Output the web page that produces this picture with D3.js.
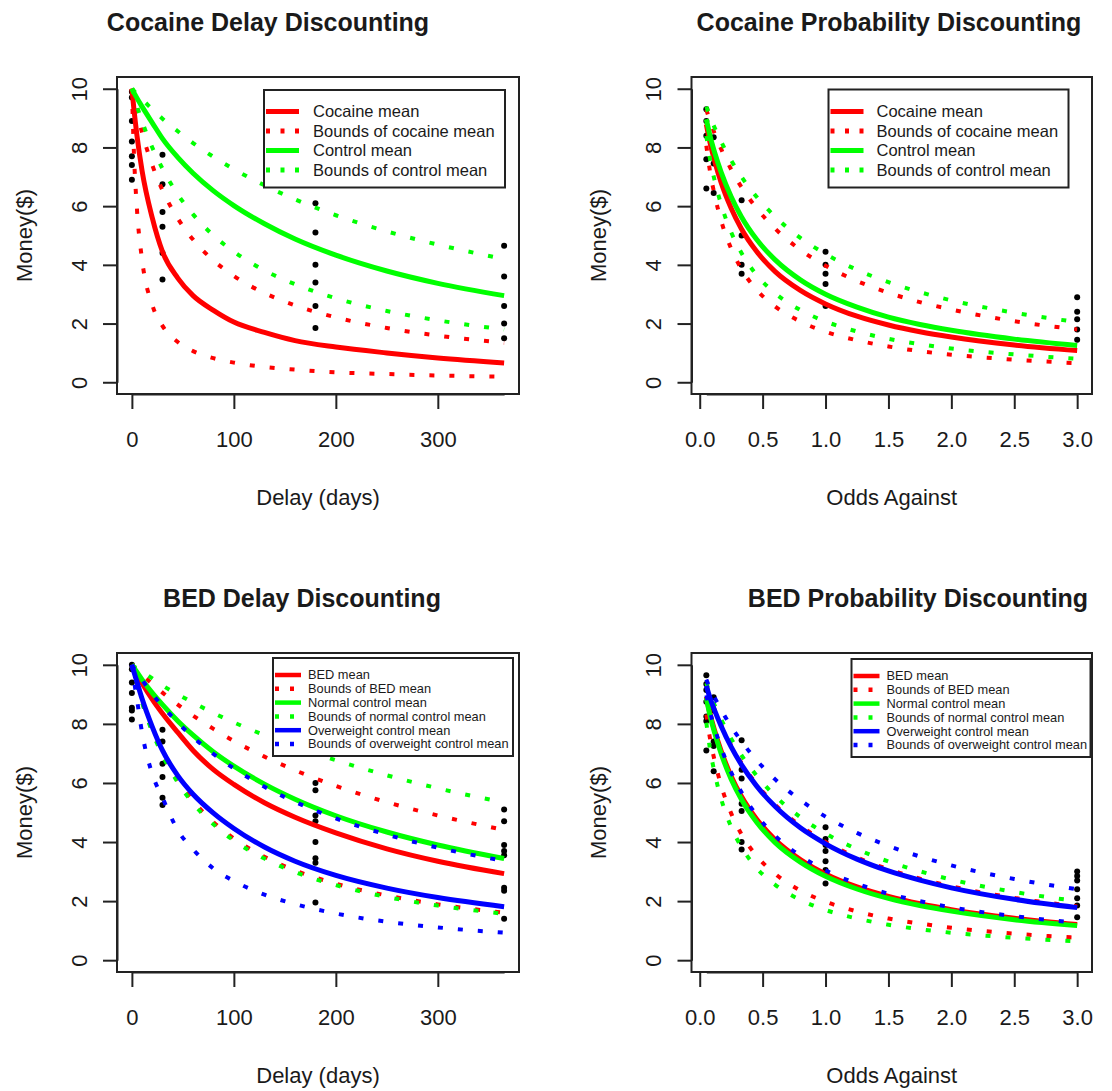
<!DOCTYPE html>
<html>
<head>
<meta charset="utf-8">
<script src="https://cdn.jsdelivr.net/npm/d3@7"></script>
<style>
  html, body { margin: 0; padding: 0; background: #fff; }
  svg { display: block; }
  text { font-family: "Liberation Sans", Arial, sans-serif; fill: #1a1a1a; }
</style>
</head>
<body>
<script>
// ---------------- DATA ----------------
const delayX = [0, 2, 5, 10, 20, 30, 45, 60, 80, 100, 130, 160, 200, 250, 300, 365];
const oddsX  = [0.0526, 0.08, 0.12, 0.17, 0.25, 0.33, 0.45, 0.6, 0.8, 1.0, 1.25, 1.5, 1.75, 2.0, 2.5, 3.0];

const delayTicks = [0, 100, 200, 300];
const oddsTicks = [0, 0.5, 1, 1.5, 2, 2.5, 3];
const moneyTicks = [0, 2, 4, 6, 8, 10];

// Cocaine delay discounting
const cocDelayMean  = [10, 9.3, 8.4, 7.2, 5.6, 4.45, 3.55, 2.95, 2.45, 2.05, 1.7, 1.42, 1.2, 1.0, 0.83, 0.66];
const cocDelayUpper = [10, 9.66, 9.19, 8.5, 7.4, 6.54, 5.58, 4.86, 4.15, 3.62, 3.04, 2.62, 2.21, 1.85, 1.59, 1.35];
const cocDelayLower = [10, 7.81, 5.88, 4.17, 2.63, 1.92, 1.37, 1.06, 0.82, 0.67, 0.52, 0.43, 0.34, 0.28, 0.23, 0.19];
const ctlDelayMean  = [10, 9.87, 9.68, 9.39, 8.84, 8.3, 7.66, 7.12, 6.52, 6.02, 5.4, 4.88, 4.33, 3.79, 3.37, 2.95];
const ctlDelayUpper = [10, 9.93, 9.81, 9.64, 9.3, 8.98, 8.55, 8.15, 7.68, 7.26, 6.71, 6.23, 5.69, 5.14, 4.69, 4.2];
const ctlDelayLower = [10, 9.76, 9.41, 8.89, 8.0, 7.28, 6.4, 5.72, 5.0, 4.45, 3.81, 3.34, 2.86, 2.43, 2.11, 1.8];
const cocDelayPoints = [[0,9.9],[0,9.7],[0,8.9],[0,8.2],[0,7.7],[0,7.4],[0,6.9],
  [30,7.75],[30,6.75],[30,5.8],[30,5.3],[30,4.4],[30,3.5],
  [180,6.1],[180,5.1],[180,4.0],[180,3.4],[180,2.6],[180,1.85],
  [365,4.65],[365,3.6],[365,2.6],[365,2.0],[365,1.5]];

// Cocaine probability discounting
const cocProbMean  = [8.79, 8.2, 7.52, 6.81, 5.93, 5.24, 4.47, 3.77, 3.13, 2.67, 2.25, 1.95, 1.72, 1.54, 1.27, 1.08];
const cocProbUpper = [9.29, 8.92, 8.46, 7.95, 7.25, 6.66, 5.94, 5.23, 4.51, 3.97, 3.45, 3.05, 2.73, 2.48, 2.08, 1.8];
const cocProbLower = [8.06, 7.23, 6.35, 5.51, 4.55, 3.87, 3.16, 2.58, 2.07, 1.72, 1.43, 1.22, 1.06, 0.94, 0.77, 0.65];
const ctlProbMean  = [8.96, 8.43, 7.81, 7.16, 6.32, 5.65, 4.88, 4.17, 3.49, 3.0, 2.56, 2.22, 1.97, 1.77, 1.47, 1.25];
const ctlProbUpper = [9.39, 9.06, 8.66, 8.2, 7.56, 7.01, 6.33, 5.64, 4.92, 4.37, 3.83, 3.41, 3.07, 2.79, 2.37, 2.05];
const ctlProbLower = [8.39, 7.65, 6.85, 6.06, 5.11, 4.42, 3.67, 3.03, 2.46, 2.07, 1.73, 1.48, 1.3, 1.15, 0.95, 0.8];
const cocProbPoints = [[0.0526,9.3],[0.0526,8.9],[0.0526,8.4],[0.0526,7.6],[0.0526,6.6],
  [0.111,8.35],[0.111,7.45],[0.111,6.45],
  [0.333,6.2],[0.333,5.0],[0.333,4.0],[0.333,3.7],
  [1,4.45],[1,4.0],[1,3.7],[1,3.35],[1,2.6],
  [3,2.9],[3,2.4],[3,2.15],[3,1.8],[3,1.45]];

// BED delay discounting
const bedDelayMean  = [10, 9.87, 9.68, 9.38, 8.83, 8.35, 7.71, 7.1, 6.45, 5.95, 5.33, 4.84, 4.31, 3.77, 3.35, 2.93];
const bedDelayUpper = [10, 9.93, 9.83, 9.66, 9.35, 9.06, 8.65, 8.28, 7.83, 7.42, 6.89, 6.43, 5.9, 5.35, 4.9, 4.41];
const bedDelayLower = [10, 9.72, 9.33, 8.75, 7.78, 7.0, 6.09, 5.39, 4.67, 4.12, 3.5, 3.04, 2.59, 2.19, 1.89, 1.61];
const nrmDelayMean  = [10, 9.9, 9.75, 9.5, 9.05, 8.65, 8.1, 7.62, 7.05, 6.57, 5.96, 5.45, 4.89, 4.34, 3.9, 3.44];
const nrmDelayUpper = [10, 9.95, 9.88, 9.77, 9.54, 9.3, 9.0, 8.72, 8.37, 8.05, 7.62, 7.23, 6.77, 6.26, 5.82, 5.34];
const nrmDelayLower = [10, 9.71, 9.32, 8.72, 7.73, 6.94, 6.02, 5.31, 4.6, 4.05, 3.44, 2.98, 2.54, 2.14, 1.85, 1.57];
const owDelayMean   = [10, 9.76, 9.42, 8.85, 7.9, 7.1, 6.25, 5.62, 4.98, 4.46, 3.83, 3.35, 2.87, 2.44, 2.12, 1.81];
const owDelayUpper  = [10, 9.89, 9.74, 9.49, 9.02, 8.6, 8.04, 7.55, 6.98, 6.49, 5.87, 5.36, 4.8, 4.25, 3.81, 3.36];
const owDelayLower  = [10, 9.49, 8.82, 7.7, 6.3, 5.5, 4.4, 3.75, 3.1, 2.68, 2.22, 1.9, 1.58, 1.3, 1.11, 0.93];
const bedDelayPoints = [[0,10.0],[0,9.85],[0,9.4],[0,9.05],[0,8.55],[0,8.45],[0,8.15],
  [30,7.8],[30,7.4],[30,6.65],[30,6.2],[30,5.5],[30,5.25],
  [180,7.45],[180,6.0],[180,5.75],[180,4.9],[180,4.7],[180,4.0],[180,3.45],[180,3.3],[180,1.95],
  [365,5.1],[365,4.7],[365,3.9],[365,3.7],[365,3.55],[365,2.45],[365,2.35],[365,1.4]];

// BED probability discounting
const bedProbMean  = [8.92, 8.38, 7.75, 7.09, 6.23, 5.56, 4.79, 4.08, 3.41, 2.92, 2.48, 2.16, 1.91, 1.71, 1.42, 1.21];
const bedProbUpper = [9.3, 8.93, 8.47, 7.97, 7.27, 6.69, 5.97, 5.26, 4.55, 4.0, 3.48, 3.08, 2.76, 2.5, 2.11, 1.82];
const bedProbLower = [8.32, 7.55, 6.73, 5.92, 4.97, 4.28, 3.54, 2.92, 2.36, 1.98, 1.65, 1.41, 1.24, 1.1, 0.9, 0.76];
const nrmProbMean  = [8.88, 8.32, 7.68, 7.0, 6.13, 5.46, 4.69, 3.98, 3.32, 2.84, 2.41, 2.09, 1.85, 1.66, 1.37, 1.17];
const nrmProbUpper = [9.38, 9.04, 8.62, 8.16, 7.5, 6.95, 6.26, 5.56, 4.84, 4.29, 3.76, 3.34, 3.01, 2.73, 2.31, 2.0];
const nrmProbLower = [8.04, 7.2, 6.31, 5.47, 4.51, 3.84, 3.13, 2.55, 2.04, 1.7, 1.41, 1.2, 1.05, 0.93, 0.76, 0.64];
const owProbMean   = [9.29, 8.9, 8.44, 7.93, 7.22, 6.63, 5.91, 5.2, 4.48, 3.94, 3.42, 3.02, 2.71, 2.45, 2.06, 1.78];
const owProbUpper  = [9.5, 9.22, 8.88, 8.48, 7.91, 7.42, 6.78, 6.12, 5.42, 4.86, 4.31, 3.87, 3.51, 3.21, 2.75, 2.4];
const owProbLower  = [8.97, 8.45, 7.84, 7.2, 6.36, 5.7, 4.92, 4.21, 3.53, 3.04, 2.59, 2.25, 2.0, 1.79, 1.49, 1.27];
const bedProbPoints = [[0.0526,9.65],[0.0526,9.35],[0.0526,9.15],[0.0526,8.75],[0.0526,8.25],[0.0526,8.1],[0.0526,7.1],
  [0.111,8.9],[0.111,8.45],[0.111,7.4],[0.111,7.25],[0.111,6.4],
  [0.333,7.45],[0.333,6.45],[0.333,6.15],[0.333,5.3],[0.333,5.05],[0.333,4.0],[0.333,3.75],
  [1,4.5],[1,4.1],[1,3.9],[1,3.7],[1,3.35],[1,3.05],[1,2.6],
  [3,3.0],[3,2.85],[3,2.7],[3,2.4],[3,2.1],[3,1.85],[3,1.45]];

const cocLegend = ["Cocaine mean", "Bounds of cocaine mean", "Control mean", "Bounds of control mean"];
const bedLegend = ["BED mean", "Bounds of BED mean", "Normal control mean", "Bounds of normal control mean",
                   "Overweight control mean", "Bounds of overweight control mean"];

// ---------------- STYLE / LAYOUT ----------------
const RED = "#ff0000", GREEN = "#00ff00", BLUE = "#0000ff";
const cocColors = [RED, RED, GREEN, GREEN];
const bedColors = [RED, RED, GREEN, GREEN, BLUE, BLUE];

const panels = [
  { title: "Cocaine Delay Discounting", titleX: 268, xlab: "Delay (days)", kind: "delay",
    box: [117, 519, 77, 394], xs: delayX, ticks: delayTicks, tickFmt: d3.format("d"),
    groups: [[cocDelayMean, [cocDelayUpper, cocDelayLower], RED], [ctlDelayMean, [ctlDelayUpper, ctlDelayLower], GREEN]],
    points: cocDelayPoints, legend: { labels: cocLegend, colors: cocColors, x: 264, y: 90, w: 241, h: 97.5, row0: 111.5, dy: 19.5, fs: 16.5, tx: 49, big: true } },
  { title: "Cocaine Probability Discounting", titleX: 889, xlab: "Odds Against", kind: "odds",
    box: [691.5, 1092, 77, 394], xs: oddsX, ticks: oddsTicks, tickFmt: d3.format(".1f"),
    groups: [[cocProbMean, [cocProbUpper, cocProbLower], RED], [ctlProbMean, [ctlProbUpper, ctlProbLower], GREEN]],
    points: cocProbPoints, legend: { labels: cocLegend, colors: cocColors, x: 828.5, y: 89.5, w: 240, h: 98, row0: 111.5, dy: 19.5, fs: 16.5, tx: 48, big: true } },
  { title: "BED Delay Discounting", titleX: 302, xlab: "Delay (days)", kind: "delay",
    box: [117, 519, 653, 972], xs: delayX, ticks: delayTicks, tickFmt: d3.format("d"),
    groups: [[bedDelayMean, [bedDelayUpper, bedDelayLower], RED], [nrmDelayMean, [nrmDelayUpper, nrmDelayLower], GREEN], [owDelayMean, [owDelayUpper, owDelayLower], BLUE]],
    points: bedDelayPoints, legend: { labels: bedLegend, colors: bedColors, x: 273, y: 658, w: 240, h: 98, row0: 675, dy: 13.8, fs: 12.8, tx: 35, big: false } },
  { title: "BED Probability Discounting", titleX: 918, xlab: "Odds Against", kind: "odds",
    box: [691.5, 1092, 653, 972], xs: oddsX, ticks: oddsTicks, tickFmt: d3.format(".1f"),
    groups: [[bedProbMean, [bedProbUpper, bedProbLower], RED], [nrmProbMean, [nrmProbUpper, nrmProbLower], GREEN], [owProbMean, [owProbUpper, owProbLower], BLUE]],
    points: bedProbPoints, legend: { labels: bedLegend, colors: bedColors, x: 851.5, y: 659, w: 239, h: 98, row0: 676, dy: 13.8, fs: 12.8, tx: 35, big: false } }
];

const W = 1112, H = 1091;
const svg = d3.select("body").append("svg").attr("width", W).attr("height", H);
svg.append("rect").attr("width", W).attr("height", H).attr("fill", "#fff");

panels.forEach(p => {
  const [bx0, bx1, by0, by1] = p.box;
  const padX = (bx1 - bx0) * 0.04 / 1.08, padY = (by1 - by0) * 0.04 / 1.08;
  const xDom = p.kind === "delay" ? [0, 365] : [0.0526, 3];
  const x = d3.scaleLinear().domain(xDom).range([bx0 + padX, bx1 - padX]);
  const y = d3.scaleLinear().domain([0, 10]).range([by1 - padY, by0 + padY]);
  const g = svg.append("g");

  // points (drawn first)
  g.append("g").selectAll("circle").data(p.points).join("circle")
    .attr("cx", d => x(d[0])).attr("cy", d => y(d[1])).attr("r", 3).attr("fill", "#000");

  const line = d3.line().x((d, i) => x(p.xs[i])).y(d => y(d)).curve(d3.curveMonotoneX);
  p.groups.forEach(([mean, bounds, col]) => {
    g.append("path").attr("d", line(mean)).attr("fill", "none").attr("stroke", col)
      .attr("stroke-width", 5).attr("stroke-linejoin", "round");
    bounds.forEach(b => {
      g.append("path").attr("d", line(b)).attr("fill", "none").attr("stroke", col)
        .attr("stroke-width", 4).attr("stroke-dasharray", "5,15");
    });
  });

  // box
  g.append("rect").attr("x", bx0).attr("y", by0).attr("width", bx1 - bx0).attr("height", by1 - by0)
    .attr("fill", "none").attr("stroke", "#222").attr("stroke-width", 2);

  // axes
  const xa = g.append("g").attr("transform", `translate(0,${by1})`)
    .call(d3.axisBottom(x).tickValues(p.ticks).tickFormat(p.tickFmt).tickSize(15).tickSizeOuter(0));
  xa.select(".domain").attr("stroke", "#222").attr("stroke-width", 2);
  xa.selectAll(".tick line").attr("stroke", "#222").attr("stroke-width", 2);
  xa.selectAll(".tick text").attr("y", 45).attr("dy", "0.35em")
    .style("font-size", "22px").style("font-family", "Liberation Sans, Arial, sans-serif").attr("fill", "#1a1a1a");

  const ya = g.append("g").attr("transform", `translate(${bx0},0)`)
    .call(d3.axisLeft(y).tickValues(moneyTicks).tickFormat(d3.format("d")).tickSize(14).tickSizeOuter(0));
  ya.select(".domain").attr("stroke", "#222").attr("stroke-width", 2);
  ya.selectAll(".tick line").attr("stroke", "#222").attr("stroke-width", 2);
  ya.selectAll(".tick text").attr("x", null).attr("dy", "0.35em").attr("text-anchor", "middle")
    .attr("transform", "translate(-38,0) rotate(-90)")
    .style("font-size", "22px").style("font-family", "Liberation Sans, Arial, sans-serif").attr("fill", "#1a1a1a");

  // titles
  const cx = (bx0 + bx1) / 2;
  g.append("text").attr("x", p.titleX).attr("y", by0 - 55).attr("dy", "0.35em").attr("text-anchor", "middle")
    .style("font-size", "25px").style("font-weight", "bold").text(p.title);
  g.append("text").attr("x", cx).attr("y", by1 + 103).attr("dy", "0.35em").attr("text-anchor", "middle")
    .style("font-size", "22px").text(p.xlab);
  g.append("text").attr("transform", `translate(${bx0 - 93},${(by0 + by1) / 2}) rotate(-90)`)
    .attr("dy", "0.35em").attr("text-anchor", "middle").style("font-size", "22px").text("Money($)");

  // legend
  const L = p.legend;
  const lg = g.append("g");
  lg.append("rect").attr("x", L.x).attr("y", L.y).attr("width", L.w).attr("height", L.h)
    .attr("fill", "#fff").attr("stroke", "#222").attr("stroke-width", 2);
  L.labels.forEach((lab, i) => {
    const yy = L.row0 + i * L.dy;
    const dotted = i % 2 === 1;
    const segLen = L.big ? 33 : 26;
    lg.append("line").attr("x1", L.x + 2).attr("x2", L.x + 2 + segLen).attr("y1", yy).attr("y2", yy)
      .attr("stroke", L.colors[i]).attr("stroke-width", L.big ? 5 : 4.5)
      .attr("stroke-dasharray", dotted ? (L.big ? "4,10.5" : "4,11") : null);
    lg.append("text").attr("x", L.x + L.tx).attr("y", yy).attr("dy", "0.35em")
      .style("font-size", L.fs + "px").text(lab);
  });
});
</script>
</body>
</html>
